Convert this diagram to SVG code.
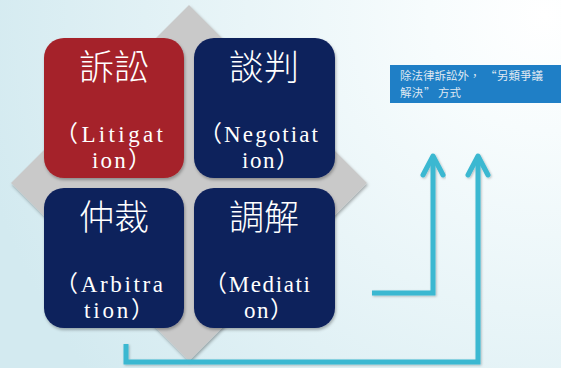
<svg xmlns="http://www.w3.org/2000/svg" width="561" height="368" viewBox="0 0 561 368" xml:lang="zh-TW">
<defs>
<radialGradient id="bg" cx="545" cy="15" r="580" gradientUnits="userSpaceOnUse">
<stop offset="0" stop-color="#ffffff"/>
<stop offset="0.2" stop-color="#f7fcfd"/>
<stop offset="1" stop-color="#d3eaf0"/>
</radialGradient>
<filter id="sh" x="-10%" y="-10%" width="130%" height="130%">
<feDropShadow dx="1" dy="2" stdDeviation="1.5" flood-color="#000" flood-opacity="0.3"/>
</filter>
<filter id="lsh" x="-10%" y="-10%" width="130%" height="130%">
<feDropShadow dx="1" dy="1" stdDeviation="0.8" flood-color="#000" flood-opacity="0.25"/>
</filter>
<marker id="arrow" viewBox="-23 -13 27 26" refX="0" refY="0" markerWidth="27" markerHeight="26" markerUnits="userSpaceOnUse" orient="auto">
<path d="M-19,-10 L0,0 L-19,10" fill="none" stroke="#3bb8d1" stroke-width="5" stroke-linecap="round" stroke-linejoin="round"/>
</marker>
</defs>
<style>
.box{filter:url(#sh)}
.red{fill:#a5232a}
.navy{fill:#0c205c}
.title{font-family:"Noto Sans CJK TC","Noto Sans CJK SC",sans-serif;font-weight:300;font-size:35px;fill:#ffffff;text-anchor:middle}
.en{font-family:"Liberation Serif","Noto Sans CJK TC",serif;font-size:23px;fill:#ffffff}
.note{font-family:"Noto Sans CJK TC","Noto Sans CJK SC",sans-serif;font-size:11.5px;fill:#dfe8f2}
.conn{fill:none;stroke:#3bb8d1;stroke-width:5;stroke-linejoin:miter;filter:url(#lsh)}
</style>
<rect width="561" height="368" fill="url(#bg)"/>
<polygon points="189,5 367,183 189,361 11,183" fill="#c9c9c9" filter="url(#sh)"/>
<g id="node-litigation">
<rect class="box red" x="44" y="38" width="140" height="140" rx="20"/>
<text class="title" x="114" y="80">訴訟</text>
<text class="en" x="55" y="142" textLength="108" lengthAdjust="spacing">（Litigat</text>
<text class="en" x="92" y="168" textLength="59" lengthAdjust="spacing">ion）</text>
</g>
<g id="node-negotiation">
<rect class="box navy" x="194" y="38" width="141" height="140" rx="20"/>
<text class="title" x="264" y="80">談判</text>
<text class="en" x="199" y="142" textLength="119" lengthAdjust="spacing">（Negotiat</text>
<text class="en" x="242" y="168" textLength="57" lengthAdjust="spacing">ion）</text>
</g>
<g id="node-arbitration">
<rect class="box navy" x="44" y="188" width="140" height="140" rx="20"/>
<text class="title" x="114" y="230">仲裁</text>
<text class="en" x="55" y="292" textLength="108" lengthAdjust="spacing">（Arbitra</text>
<text class="en" x="84" y="318" textLength="70" lengthAdjust="spacing">tion）</text>
</g>
<g id="node-mediation">
<rect class="box navy" x="194" y="188" width="141" height="140" rx="20"/>
<text class="title" x="264" y="230">調解</text>
<text class="en" x="204" y="292" textLength="106" lengthAdjust="spacing">（Mediati</text>
<text class="en" x="244" y="318" textLength="49" lengthAdjust="spacing">on）</text>
</g>
<g id="node-note">
<rect x="390" y="65" width="171" height="38" fill="#1f7fc6"/>
<text class="note"><tspan x="400" y="79.5">除法律訴訟外，</tspan><tspan x="485" y="79.5">“</tspan><tspan x="497" y="79.5">另類爭議</tspan><tspan x="400" y="96.5">解決</tspan><tspan x="424" y="96.5">”</tspan><tspan x="438" y="96.5">方式</tspan></text>
</g>
<g id="connectors">
<path class="conn" d="M335,94.5 H385" marker-end="url(#arrow)"/>
<path class="conn" d="M372,293 H433 V156" marker-end="url(#arrow)"/>
<path class="conn" d="M126,344 V362 H478 V156" marker-end="url(#arrow)"/>
</g>
</svg>
